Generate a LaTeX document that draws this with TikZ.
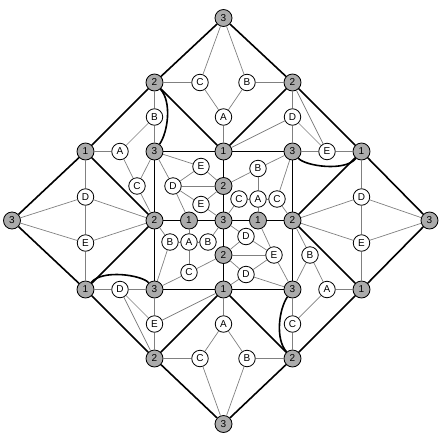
\documentclass[tikz,border=0pt]{standalone}
\usepackage{fontspec}
\setmainfont{Liberation Sans}
\begin{document}
\begin{tikzpicture}[x=1pt,y=-1pt,
  g/.style={circle, draw=black, line width=0.8pt, fill=black!33, minimum size=17pt, inner sep=0pt, font=\fontsize{10}{10}\selectfont},
  w/.style={circle, draw=black, line width=0.8pt, fill=white, minimum size=16.5pt, inner sep=0pt, font=\fontsize{10}{10}\selectfont},
  thk/.style={line width=1.6pt, black},
  thn/.style={line width=0.7pt, black!50}]
\useasboundingbox (0,0) rectangle (445,437);
% gray nodes
\node[g] (t3) at (223.5,18) {3};
\node[g] (tl2) at (154.5,82.5) {2};
\node[g] (tr2) at (292.5,82.5) {2};
\node[g] (l1u) at (85.5,151.5) {1};
\node[g] (c3tl) at (154.5,151.5) {3};
\node[g] (c1t) at (223.5,151.5) {1};
\node[g] (c3tr) at (292.5,151.5) {3};
\node[g] (r1u) at (361.5,151.5) {1};
\node[g] (l3) at (12,220.5) {3};
\node[g] (c2l) at (154.5,220.5) {2};
\node[g] (c1l) at (189,220.5) {1};
\node[g] (c3) at (223.5,220.5) {3};
\node[g] (c1r) at (258,220.5) {1};
\node[g] (c2r) at (292.5,220.5) {2};
\node[g] (r3) at (429.5,220.5) {3};
\node[g] (c2t) at (223.5,186) {2};
\node[g] (c2b) at (223.5,255) {2};
\node[g] (l1d) at (85.5,289.5) {1};
\node[g] (c3bl) at (154.5,289.5) {3};
\node[g] (c1b) at (223.5,289.5) {1};
\node[g] (c3br) at (292.5,289.5) {3};
\node[g] (r1d) at (361.5,289.5) {1};
\node[g] (bl2) at (154.5,358.5) {2};
\node[g] (br2) at (292.5,358.5) {2};
\node[g] (b3) at (223.5,424) {3};
% white nodes, outer
\node[w] (tC) at (200,82.5) {C};
\node[w] (tB) at (247,82.5) {B};
\node[w] (tA) at (223.5,117) {A};
\node[w] (ulB) at (154.5,117) {B};
\node[w] (ulA) at (120,151.5) {A};
\node[w] (ulC) at (137,186) {C};
\node[w] (urD) at (292.5,117) {D};
\node[w] (urE) at (327,151.5) {E};
\node[w] (lD) at (85.5,197) {D};
\node[w] (lE) at (85.5,243) {E};
\node[w] (rD) at (361.5,197) {D};
\node[w] (rE) at (361.5,243) {E};
\node[w] (lrB) at (310,255) {B};
\node[w] (lrA) at (327,289.5) {A};
\node[w] (lrC) at (292.5,324) {C};
\node[w] (llD) at (120,289.5) {D};
\node[w] (llE) at (154.5,324) {E};
\node[w] (bA) at (223.5,324) {A};
\node[w] (bC) at (200,358.5) {C};
\node[w] (bB) at (247,358.5) {B};
% white nodes, inner
\node[w] (iE1) at (201,166.5) {E};
\node[w] (iD1) at (173,186) {D};
\node[w] (iE2) at (201,204.5) {E};
\node[w] (iB1) at (258,168.5) {B};
\node[w] (iC1) at (239,199) {C};
\node[w] (iA1) at (258,199) {A};
\node[w] (iC2) at (277,199) {C};
\node[w] (iB2) at (170,242) {B};
\node[w] (iA2) at (189,242) {A};
\node[w] (iB3) at (208,242) {B};
\node[w] (iC3) at (189,272.5) {C};
\node[w] (iD2) at (246,236.5) {D};
\node[w] (iE3) at (274,255) {E};
\node[w] (iD3) at (246,274.5) {D};
% thin edges
\foreach \a/\b in {t3/tC, t3/tB, tl2/tC, tB/tr2, tC/tA, tB/tA, tA/c1t,
  tl2/ulB, ulB/c3tl, l1u/ulA, ulA/ulB, ulA/ulC, ulC/c3tl, ulC/c2l,
  tr2/urD, urD/c3tr, urD/c1t, urD/urE, tr2/urE, urE/r1u, c3tr/urE,
  l1u/lD, lD/lE, lE/l1d, l3/lD, l3/lE, lD/c2l, lE/c2l,
  r1u/rD, rD/rE, rE/r1d, r3/rD, r3/rE, rD/c2r, rE/c2r,
  c2r/lrB, lrB/c3br, lrB/lrA, lrA/r1d, lrA/lrC, c3br/lrC, lrC/br2,
  l1d/llD, llD/c3bl, llD/llE, llD/bl2, c3bl/llE, llE/bl2, llE/c1b,
  c1b/bA, bA/bC, bA/bB, bC/bl2, bB/br2, bC/b3, bB/b3,
  c3tl/iE1, c3tl/iD1, iE1/iD1, iE1/c2t, iD1/c2t, iD1/iE2, iD1/c1l, iE2/c2t, iE2/c3,
  iB1/c3tr, iB1/c2t, iB1/iA1, iC1/iA1, iA1/iC2, iC1/c3, iA1/c1r, iC2/c3tr, iC2/c2r,
  iB2/c2l, iB2/iA2, iA2/iB3, iB2/c3bl, iA2/c1l, iA2/iC3, iC3/c3bl, iC3/c2b, iB3/c3,
  iD2/c3, iD2/c2b, iD2/iE3, iE3/c1r, iE3/c2b, iE3/c3br, iE3/iD3, iD3/c2b, iD3/c1b, iD3/c3br}
  \draw[thn] (\a) -- (\b);
% thick edges
\foreach \a/\b in {t3/tl2, tl2/l1u, l1u/l3, l3/l1d, l1d/bl2, bl2/b3, b3/br2, br2/r1d, r1d/r3, r3/r1u, r1u/tr2, tr2/t3,
  tl2/c1t, c1t/tr2, l1u/c2l, c2l/l1d, r1u/c2r, c2r/r1d, bl2/c1b, c1b/br2,
  c3tl/c1t, c1t/c3tr, c3tr/c2r, c2r/c3br, c3br/c1b, c1b/c3bl, c3bl/c2l, c2l/c3tl,
  c1t/c2t, c2t/c3, c3/c2b, c2b/c1b, c2l/c1l, c1l/c3, c3/c1r, c1r/c2r}
  \draw[thk] (\a) -- (\b);
% thick curves
\draw[thk] (tl2) .. controls (172,102) and (168,132) .. (c3tl);
\draw[thk] (br2) .. controls (275,339) and (279,309) .. (c3br);
\draw[thk] (c3tr) .. controls (305,166) and (345,172) .. (r1u);
\draw[thk] (c3bl) .. controls (142,275) and (102,269) .. (l1d);
\end{tikzpicture}
\end{document}
